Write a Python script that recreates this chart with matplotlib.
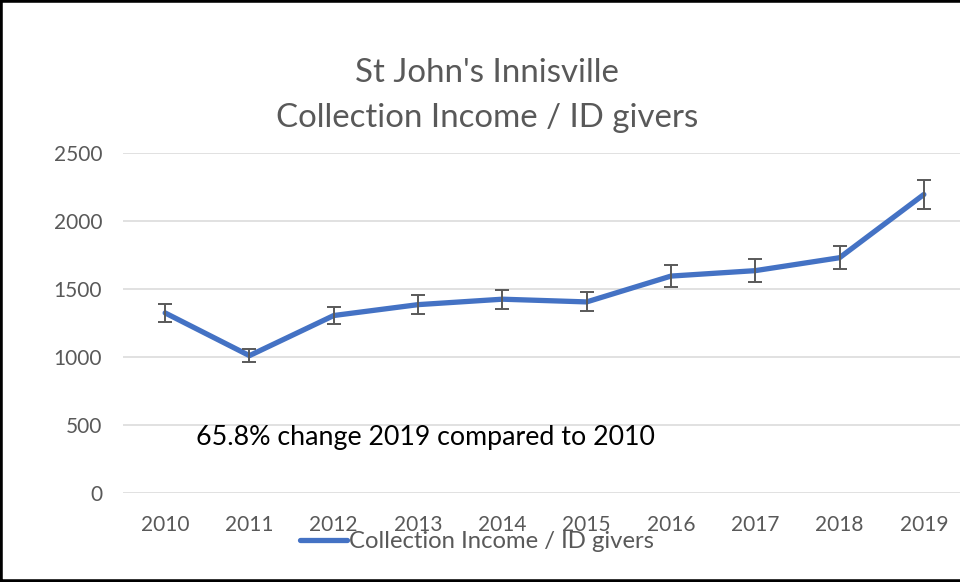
import matplotlib
matplotlib.use('Agg')
import matplotlib.pyplot as plt
from matplotlib.patches import Rectangle

# data
years = ['2010', '2011', '2012', '2013', '2014', '2015', '2016', '2017', '2018', '2019']
income_per_giver = [1324, 1010, 1305, 1385, 1425, 1405, 1595, 1635, 1730, 2195]
error_amount = [66, 50, 65, 69, 71, 70, 80, 82, 86, 110]
y_ticks = [0, 500, 1000, 1500, 2000, 2500]

title_lines = ["St John's Innisville", "Collection Income / ID givers"]
series_name = 'Collection Income / ID givers'
note = '65.8% change 2019 compared to 2010'

plt.rcParams['font.family'] = ['Lato', 'DejaVu Sans']

grey = '#595959'
blue = '#4472C4'

fig = plt.figure(figsize=(9.6, 5.82), dpi=100)
W, H = 960, 582
# plot area in pixels: left 123, right 966 (runs off the cropped edge), top 153, bottom 493
ax = fig.add_axes([123 / W, (H - 493) / H, 843 / W, 340 / H])

x = list(range(len(years)))
ax.plot(x, income_per_giver, color=blue, linewidth=3.8, solid_capstyle='round',
        solid_joinstyle='round', label=series_name, zorder=3)
ax.errorbar(x, income_per_giver, yerr=error_amount, fmt='none', ecolor=grey,
            elinewidth=1.4, capsize=5, capthick=1.4, zorder=4)

ax.set_xlim(-0.5, len(years) - 0.5)
ax.set_ylim(0, 2500)
ax.set_yticks(y_ticks)
ax.set_xticks(x)
ax.set_xticklabels(years)
ax.grid(True, axis='y', color='#D9D9D9', linewidth=1.1)
ax.set_axisbelow(True)
for s in ax.spines.values():
    s.set_visible(False)
ax.tick_params(axis='both', length=0, colors=grey, labelsize=15)
ax.tick_params(axis='y', pad=15)
ax.tick_params(axis='x', pad=16)

ax.text(0.0866, 0.162, note, transform=ax.transAxes, fontsize=19.3, color='black',
        ha='left', va='center')

fig.text(487 / W, 1 - 73 / H, title_lines[0], ha='center', va='center', fontsize=23.8, color=grey)
fig.text(487 / W, 1 - 118 / H, title_lines[1], ha='center', va='center', fontsize=23.8, color=grey)

# legend sits low and brushes the year labels, as in the original
fig.legend(loc='center', bbox_to_anchor=(477 / W, 1 - 542 / H), frameon=False,
           fontsize=17.2, labelcolor=grey, handlelength=2.0, handletextpad=0.08,
           borderpad=0)

# black frame round the picture (right side cropped off in the original)
fig.add_artist(Rectangle((0, 0), 1.2, 1, transform=fig.transFigure, fill=False,
                         edgecolor='black', linewidth=4, clip_on=False))

fig.savefig('out.png', dpi=100, facecolor='white')
